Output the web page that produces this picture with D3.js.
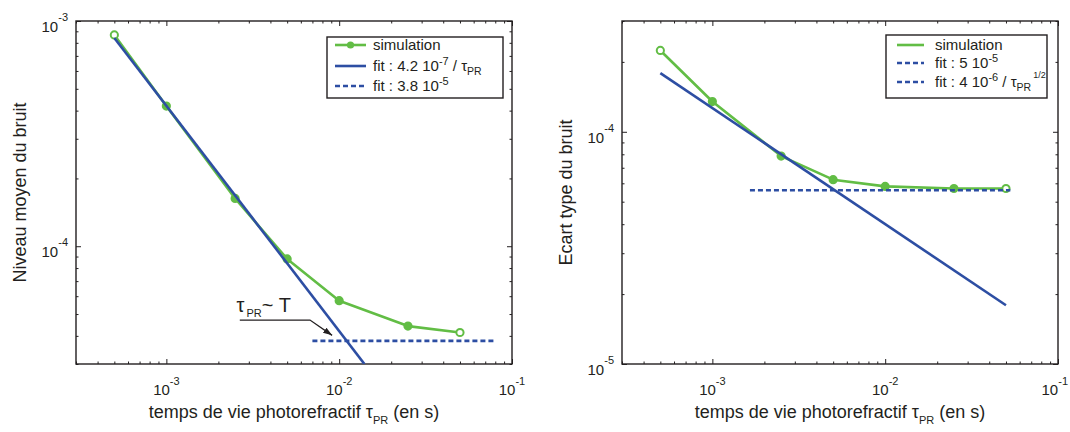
<!DOCTYPE html>
<html><head><meta charset="utf-8">
<script src="https://cdn.jsdelivr.net/npm/d3@7"></script>
<style>
body{margin:0;background:#fff}
svg{display:block}
text{font-family:"Liberation Sans",Arial,sans-serif;fill:#231f20}
</style>
</head><body>
<svg id="c" width="1070" height="432"></svg>
<script>
// ---------- data ----------
const tau        = [5e-4, 1e-3, 2.5e-3, 5e-3, 1e-2, 2.5e-2, 5e-2];
const meanNoise  = [8.67e-4, 4.19e-4, 1.63e-4, 8.78e-5, 5.73e-5, 4.42e-5, 4.14e-5];
const stdNoise   = [2.24e-4, 1.35e-4, 7.86e-5, 6.22e-5, 5.82e-5, 5.70e-5, 5.70e-5];
// fit lines (end points)
const meanFitX   = [5e-4, 1.4e-2];
const meanFitY   = [8.4e-4, 3.0e-5];
const meanFloorX = [7e-3, 8e-2];
const meanFloorY = [3.8e-5, 3.8e-5];
const stdFitX    = [5e-4, 5e-2];
const stdFitY    = [1.79e-4, 1.79e-5];
const stdFloorX  = [1.65e-3, 5.3e-2];
const stdFloorY  = [5.6e-5, 5.6e-5];
// axes
const xDomain     = [3e-4, 1e-1];
const yDomainMean = [3e-5, 1e-3];
const yDomainStd  = [1e-5, 3e-4];
const xMajor      = [1e-3, 1e-2, 1e-1];
const xMajorExp   = ["-3", "-2", "-1"];
const yMajorMean  = [1e-4, 1e-3];
const yMajorMeanExp = ["-4", "-3"];
const yMajorStd   = [1e-5, 1e-4];
const yMajorStdExp  = ["-5", "-4"];
// annotation (data coords)
const annotTextPos = [2.55e-3, 5.1e-5];
const annotPathX = [2.66e-3, 6.78e-3, 9.1e-3];
const annotPathY = [4.7e-5, 4.7e-5, 4.02e-5];

const GREEN = "#62bd45", BLUE = "#2d4ea3";
const svg = d3.select("#c");
const defs = svg.append("defs");
defs.append("marker").attr("id","arrow").attr("viewBox","0 0 10 10").attr("refX",10).attr("refY",5)
  .attr("markerWidth",9).attr("markerHeight",9).attr("markerUnits","userSpaceOnUse").attr("orient","auto")
  .append("path").attr("d","M0,1.5 L10,5 L0,8.5 Z").attr("fill","#231f20");

function panel(opts){
  const {x0,x1,y0,y1,yDomain,yMajor,yExp,id} = opts;
  const x = d3.scaleLog().domain(xDomain).range([x0,x1]);
  const y = d3.scaleLog().domain(yDomain).range([y1,y0]);
  const g = svg.append("g");
  defs.append("clipPath").attr("id","clip"+id).append("rect")
    .attr("x",x0).attr("y",y0).attr("width",x1-x0).attr("height",y1-y0);

  const xMinor = x.ticks().filter(v=>!xMajor.some(m=>Math.abs(m-v)/m<1e-6));
  const yMinor = y.ticks().filter(v=>!yMajor.some(m=>Math.abs(m-v)/m<1e-6));
  const mk = (axisFn, pos, vals, size, transform) => {
    const a = g.append("g").attr("transform",transform)
      .call(axisFn(pos).tickValues(vals).tickSizeInner(-size).tickSizeOuter(0).tickFormat(""));
    a.select(".domain").remove();
    a.selectAll("line").attr("stroke","#231f20").attr("stroke-width",1);
  };
  mk(d3.axisBottom, x, xMinor, 2.5, `translate(0,${y1})`);
  mk(d3.axisBottom, x, xMajor, 5, `translate(0,${y1})`);
  mk(d3.axisTop, x, xMinor, 2.5, `translate(0,${y0})`);
  mk(d3.axisTop, x, xMajor, 5, `translate(0,${y0})`);
  mk(d3.axisLeft, y, yMinor, 2.5, `translate(${x0},0)`);
  mk(d3.axisLeft, y, yMajor, 5, `translate(${x0},0)`);
  mk(d3.axisRight, y, yMinor, 2.5, `translate(${x1},0)`);
  mk(d3.axisRight, y, yMajor, 5, `translate(${x1},0)`);

  g.append("rect").attr("x",x0).attr("y",y0).attr("width",x1-x0).attr("height",y1-y0)
    .attr("fill","none").attr("stroke","#231f20").attr("stroke-width",1.4);

  // tick labels
  xMajor.forEach((v,i)=>{
    const t = g.append("text").attr("x",x(v)).attr("y",y1+31).attr("text-anchor","middle").attr("font-size",15);
    t.append("tspan").text("10");
    t.append("tspan").attr("dy",-10).attr("font-size",11).text(xMajorExp[i]);
    const bb = t.node().getBBox();
    if (bb.x + bb.width > 1068) t.attr("x", x(v) - (bb.x + bb.width - 1068));
  });
  yMajor.forEach((v,i)=>{
    const t = g.append("text").attr("x",x0-8).attr("y",y(v)+11).attr("text-anchor","end").attr("font-size",15);
    t.append("tspan").text("10");
    t.append("tspan").attr("dy",-11).attr("font-size",11).text(yExp[i]);
  });

  // x axis label
  const xl = g.append("text").attr("x",(x0+x1)/2).attr("y",y1+54).attr("text-anchor","middle").attr("font-size",18);
  xl.append("tspan").text("temps de vie photorefractif \u03C4");
  xl.append("tspan").attr("dy",6).attr("font-size",11).text("PR");
  xl.append("tspan").attr("dy",-6).text(" (en s)");
  // y axis label
  g.append("text").attr("transform",`translate(${opts.ylabX},${(y0+y1)/2}) rotate(-90)`)
    .attr("text-anchor","middle").attr("font-size",18).text(opts.ylabel);

  const line = d3.line().x(d=>x(d[0])).y(d=>y(d[1]));
  const plot = g.append("g").attr("clip-path",`url(#clip${id})`);
  return {x,y,g,plot,line};
}

// ---------- left panel ----------
const L = panel({id:"L",x0:76,x1:512,y0:21,y1:364,yDomain:yDomainMean,yMajor:yMajorMean,yExp:yMajorMeanExp,
  ylabel:"Niveau moyen du bruit", ylabX:26});
L.plot.append("path").attr("d",L.line(d3.zip(tau,meanNoise))).attr("fill","none").attr("stroke",GREEN).attr("stroke-width",2.6).attr("stroke-linejoin","round");
L.plot.selectAll("circle.m").data(d3.zip(tau,meanNoise)).join("circle")
  .attr("cx",d=>L.x(d[0])).attr("cy",d=>L.y(d[1])).attr("r",3.6)
  .attr("fill",(d,i)=> (i===0||i===tau.length-1)?"#fff":GREEN).attr("stroke",GREEN).attr("stroke-width",2);
L.plot.append("path").attr("d",L.line(d3.zip(meanFitX,meanFitY))).attr("fill","none").attr("stroke",BLUE).attr("stroke-width",2.6);
L.plot.append("path").attr("d",L.line(d3.zip(meanFloorX,meanFloorY))).attr("fill","none").attr("stroke",BLUE).attr("stroke-width",2.6).attr("stroke-dasharray","5,3");

// annotation
{
  const t = L.g.append("text").attr("x",L.x(annotTextPos[0])).attr("y",L.y(annotTextPos[1])).attr("font-size",20);
  t.append("tspan").text("\u03C4");
  t.append("tspan").attr("dy",5).attr("dx",2).attr("font-size",11).text("PR");
  t.append("tspan").attr("dy",-5).text("~ T");
  L.g.append("path").attr("d",L.line(d3.zip(annotPathX,annotPathY))).attr("fill","none")
    .attr("stroke","#231f20").attr("stroke-width",1.3).attr("marker-end","url(#arrow)");
}

// ---------- right panel ----------
const R = panel({id:"R",x0:622,x1:1058,y0:21,y1:364,yDomain:yDomainStd,yMajor:yMajorStd,yExp:yMajorStdExp,
  ylabel:"Ecart type du bruit", ylabX:572});
R.plot.append("path").attr("d",R.line(d3.zip(tau,stdNoise))).attr("fill","none").attr("stroke",GREEN).attr("stroke-width",2.6).attr("stroke-linejoin","round");
R.plot.selectAll("circle.m").data(d3.zip(tau,stdNoise)).join("circle")
  .attr("cx",d=>R.x(d[0])).attr("cy",d=>R.y(d[1])).attr("r",3.6)
  .attr("fill",(d,i)=> (i===0||i===tau.length-1)?"#fff":GREEN).attr("stroke",GREEN).attr("stroke-width",2);
R.plot.append("path").attr("d",R.line(d3.zip(stdFitX,stdFitY))).attr("fill","none").attr("stroke",BLUE).attr("stroke-width",2.6);
R.plot.append("path").attr("d",R.line(d3.zip(stdFloorX,stdFloorY))).attr("fill","none").attr("stroke",BLUE).attr("stroke-width",2.6).attr("stroke-dasharray","5,3");

// ---------- legends ----------
function legend(box, rows){
  const g = svg.append("g");
  g.append("rect").attr("x",box.x).attr("y",box.y).attr("width",box.w).attr("height",box.h)
    .attr("fill","#fff").attr("stroke","#231f20").attr("stroke-width",1.4);
  rows.forEach(r=>{
    g.append("line").attr("x1",box.lx0).attr("x2",box.lx1).attr("y1",r.y).attr("y2",r.y)
      .attr("stroke",r.color).attr("stroke-width",2.6).attr("stroke-dasharray",r.dash||null);
    if(r.marker) g.append("circle").attr("cx",(box.lx0+box.lx1)/2).attr("cy",r.y).attr("r",3.6).attr("fill",r.color);
    const t = g.append("text").attr("x",box.tx).attr("y",r.y+5).attr("font-size",15);
    r.parts.forEach(p=>{
      const s = t.append("tspan").text(p.t);
      if(p.sup){ s.attr("dy",-6).attr("font-size",11); }
      if(p.unsup){ s.attr("dy",6); }
      if(p.sub){ s.attr("dy",4).attr("font-size",10.5); }
      if(p.dy!==undefined) s.attr("dy",p.dy);
      if(p.fs) s.attr("font-size",p.fs);
      if(p.dx) s.attr("dx",p.dx);
    });
  });
}
legend({x:327,y:37,w:176,h:61,lx0:335,lx1:366,tx:373},[
  {y:45,color:GREEN,marker:true,parts:[{t:"simulation"}]},
  {y:66,color:BLUE,parts:[{t:"fit : 4.2 10"},{t:"-7",sup:true},{t:" / \u03C4",unsup:true},{t:"PR",sub:true}]},
  {y:86,color:BLUE,dash:"5,3",parts:[{t:"fit : 3.8 10"},{t:"-5",sup:true}]}
]);
legend({x:886,y:35,w:161,h:63,lx0:897,lx1:924,tx:935},[
  {y:45,color:GREEN,parts:[{t:"simulation"}]},
  {y:63,color:BLUE,dash:"5,3",parts:[{t:"fit : 5 10"},{t:"-5",sup:true}]},
  {y:82,color:BLUE,dash:"5,3",parts:[{t:"fit : 4 10"},{t:"-6",sup:true},{t:" / \u03C4",unsup:true},{t:"PR",sub:true},{t:"1/2",dy:-13,fs:9,dx:2}]}
]);
</script>
</body></html>
